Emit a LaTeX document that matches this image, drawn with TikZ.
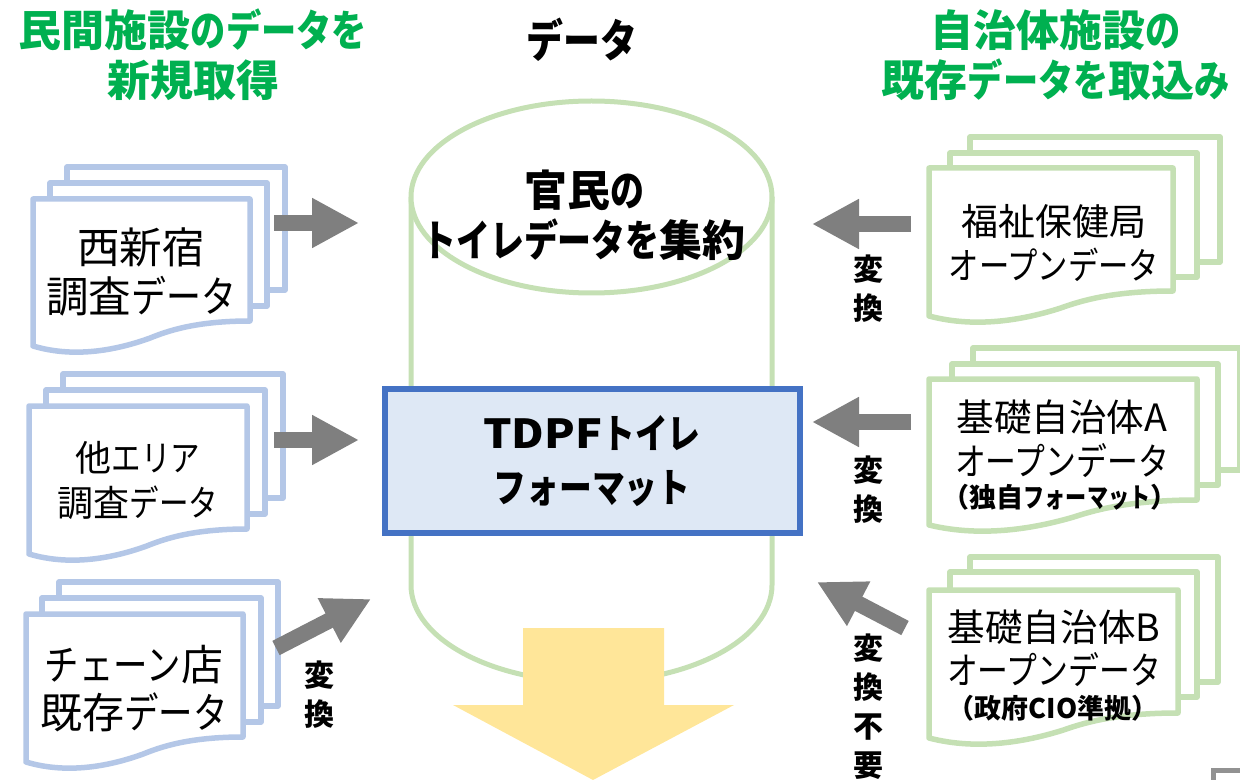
\documentclass[tikz,border=0pt]{standalone}
\usepackage{graphicx}
\usepackage{fontspec}
\setmainfont{Noto Sans CJK JP}
\usetikzlibrary{arrows.meta}
\definecolor{docblue}{HTML}{B4C7E7}
\definecolor{docgreen}{HTML}{C5E0B4}
\definecolor{boxblue}{HTML}{4472C4}
\definecolor{boxfill}{HTML}{DEE8F5}
\definecolor{titlegreen}{HTML}{00B050}
\definecolor{arrowgrey}{HTML}{7F7F7F}
\definecolor{arrowyellow}{HTML}{FFE699}
\tikzset{
  sheet/.style={line width=2.75pt,fill=white,line join=round},
  cyl/.style={line width=2.5pt,draw=docgreen},
  garrow/.style={line width=8pt,draw=arrowgrey,-{Triangle[length=23.5pt,width=23.5pt,fill=arrowgrey]}},
  titletext/.style={font=\fontsize{21.5}{25}\selectfont\bfseries,text=titlegreen,align=center,inner sep=0},
  doctext/.style={text=black,align=center,inner sep=0},
  subtext/.style={font=\fontsize{13.5}{16}\selectfont\bfseries,align=center,inner sep=0},
  convtext/.style={font=\fontsize{15}{19.5}\selectfont\bfseries,align=center,inner sep=0},
  centertext/.style={font=\fontsize{20}{27}\selectfont\bfseries,align=center,inner sep=0},
  cyltextstyle/.style={font=\fontsize{21.5}{25}\selectfont\bfseries,align=center,inner sep=0},
}
\newcommand{\K}[1]{\scalebox{0.82}[1]{#1}}
\newcommand{\KK}[1]{\scalebox{0.79}[1]{#1}}
\newcommand{\rectp}[4]{(#1,#2) rectangle (#3,#4)}
\newcommand{\wavep}[4]{(#1,#2) -- (#3,#2) -- (#3,#4)
  .. controls ({#3-(#3-#1)*0.25},#4) and ({#3-(#3-#1)*0.38},{#4+10}) .. ({#3-(#3-#1)*0.46},{#4+17})
  .. controls ({#3-(#3-#1)*0.6},{#4+28}) and ({#3-(#3-#1)*0.8},{#4+38}) .. (#1,{#4+25}) -- cycle}
\newcommand{\stackdoc}[4]{%
  \draw[sheet,draw=#4] #3;
  \draw[sheet,draw=#4] #2;
  \draw[sheet,draw=#4] #1;
}
\begin{document}
\begin{tikzpicture}[x=0.5pt,y=-0.5pt]
\useasboundingbox (0,0) rectangle (1240,780);
% cylinder
\draw[cyl,fill=white] (411,197) -- (411,585) arc[start angle=180,end angle=0,x radius=180.5,y radius=97] -- (772,197);
\draw[cyl,fill=white] (591.5,197) ellipse[x radius=180.5,y radius=96];
% yellow arrow
\fill[arrowyellow] (523,628) -- (664,628) -- (664,705) -- (734,705) -- (593,780) -- (453,705) -- (523,705) -- cycle;
% box
\node[draw=boxblue,fill=boxfill,line width=3pt,outer sep=0,minimum width=207.5pt,minimum height=72pt,inner sep=0,anchor=north west] (tdpfbox) at (385,389) {};
\node[centertext] (tdpf) at (592,461) {\scalebox{1.12}[1]{TDPF}\K{トイレ}\\\K{フォーマット}};
\node[cyltextstyle] (cyltext) at (584,215.5) {官民\KK{の}\\\KK{トイレデータを}集約};
% titles
\node[titletext] (tleft) at (193,55) {民間施設\K{のデータを}\\新規取得};
\node[titletext,font=\fontsize{22.5}{25}\selectfont\bfseries] (tmid) at (582,40) {\textcolor{black}{\K{データ}}};
\node[titletext] (tright) at (1056,55) {自治体施設\K{の}\\既存\K{データを}取込\K{み}};
% documents, left
\stackdoc{\wavep{33}{199}{250}{321}}{\rectp{50}{183}{267}{306}}{\rectp{67}{167}{285}{290}}{docblue}
\stackdoc{\wavep{29}{406}{247}{529}}{\rectp{46}{390}{265}{514}}{\rectp{63}{374}{283}{498}}{docblue}
\stackdoc{\wavep{26}{614}{243}{737}}{\rectp{42}{598}{261}{722}}{\rectp{59}{582}{278}{706}}{docblue}
% documents, right
\stackdoc{\wavep{929}{168}{1173}{291}}{\rectp{950}{153}{1197}{277}}{\rectp{970}{137}{1220}{262}}{docgreen}
\stackdoc{\wavep{929}{379}{1197}{500}}{\rectp{952}{364}{1218}{485}}{\rectp{973}{348}{1240}{470}}{docgreen}
\stackdoc{\wavep{929}{590}{1178}{713}}{\rectp{950}{572}{1197}{697}}{\rectp{970}{557}{1218}{682}}{docgreen}
% document labels
\node[doctext,font=\fontsize{21.3}{24.5}\selectfont] (d1) at (141,272) {西新宿\\調査\K{データ}};
\node[doctext,font=\fontsize{18}{22.5}\selectfont] (d2) at (138,480) {他\K{エリア}\\調査\K{データ}};
\node[doctext,font=\fontsize{21}{24}\selectfont] (d3) at (134,689) {\K{チェーン}店\\既存\K{データ}};
\node[doctext,font=\fontsize{18.5}{22}\selectfont] (d4) at (1054,243) {福祉保健局\\\K{オープンデータ}};
\node[doctext,font=\fontsize{18.8}{22}\selectfont] (d5) at (1062,439) {基礎自治体A\\\K{オープンデータ}};
\node[subtext] (d5s) at (1060,497) {（独自\scalebox{0.78}[1]{フォーマット}）};
\node[doctext,font=\fontsize{18.8}{21.5}\selectfont] (d6) at (1054,648) {基礎自治体B\\\K{オープンデータ}};
\node[subtext] (d6s) at (1053,708) {（政府CIO準拠）};
% arrows
\coordinate (a1s) at (274,223); \coordinate (a1e) at (359,223);
\coordinate (a2s) at (274,440); \coordinate (a2e) at (359,440);
\coordinate (a3s) at (276,648); \coordinate (a3e) at (371,599);
\coordinate (b1s) at (911,224); \coordinate (b1e) at (812,224);
\coordinate (b2s) at (911,422); \coordinate (b2e) at (812,422);
\coordinate (b3s) at (905,628); \coordinate (b3e) at (817,582);
\draw[garrow] (a1s) -- (a1e);
\draw[garrow] (a2s) -- (a2e);
\draw[garrow] (a3s) -- (a3e);
\draw[garrow] (b1s) -- (b1e);
\draw[garrow] (b2s) -- (b2e);
\draw[garrow] (b3s) -- (b3e);
% conversion labels
\node[convtext] (c1) at (319,695) {変\\換};
\node[convtext] (c2) at (868,289) {変\\換};
\node[convtext] (c3) at (868,490) {変\\換};
\node[convtext] (c4) at (868,707) {変\\換\\不\\要};
% corner mark
\draw[line width=2.5pt,draw=arrowgrey!85] (1213.5,780) -- (1213.5,770) -- (1240,770);
\end{tikzpicture}
\end{document}
